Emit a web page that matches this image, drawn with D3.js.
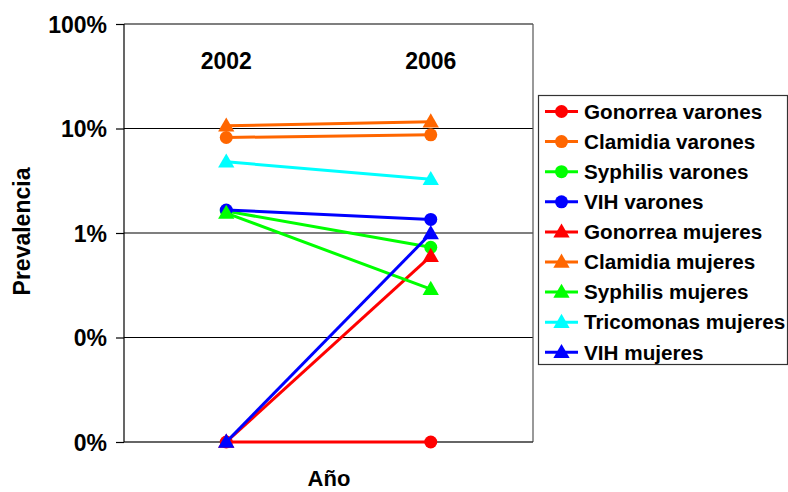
<!DOCTYPE html>
<html><head><meta charset="utf-8">
<script src="https://cdn.jsdelivr.net/npm/d3@7"></script>
<style>body{margin:0;background:#fff}svg{display:block;font-family:"Liberation Sans",Arial,sans-serif;font-weight:bold}</style>
</head><body><svg id="c" width="788" height="492"></svg>
<script>
const years = ["2002", "2006"];
const seriesNames = ["Gonorrea varones","Clamidia varones","Syphilis varones","VIH varones","Gonorrea mujeres","Clamidia mujeres","Syphilis mujeres","Tricomonas mujeres","VIH mujeres"];
const seriesColors = ["#FF0000","#FF6600","#00FF00","#0000FF","#FF0000","#FF6600","#00FF00","#00FFFF","#0000FF"];
const seriesMarkers = ["circle","circle","circle","circle","triangle","triangle","triangle","triangle","triangle"];
// prevalence in %
const v2002 = [0.01, 8.2, 1.62, 1.66, 0.01, 10.6, 1.55, 4.8, 0.01];
const v2006 = [0.01, 8.7, 0.73, 1.35, 0.60, 11.6, 0.29, 3.26, 0.99];
const yTicks = [0.01, 0.1, 1, 10, 100];
const yTickLabels = ["0%","0%","1%","10%","100%"];

const svg = d3.select("#c");
const L=124, R=533, T=24, B=442;
const x = d3.scaleBand().domain(years).range([L,R]);
const y = d3.scaleLog().domain([0.01,100]).range([B,T]);

// gridlines
svg.append("g").selectAll("line").data(yTicks.slice(1)).join("line")
  .attr("x1",L).attr("x2",R).attr("y1",d=>y(d)).attr("y2",d=>y(d))
  .attr("stroke","#000").attr("stroke-width",1.2);
// plot border right/bottom
svg.append("line").attr("x1",R).attr("x2",R).attr("y1",T).attr("y2",B).attr("stroke","#555").attr("stroke-width",1.2);
svg.append("line").attr("x1",L).attr("x2",R).attr("y1",B).attr("y2",B).attr("stroke","#333").attr("stroke-width",1.5);

// y axis
const yAxis = d3.axisLeft(y).tickValues(yTicks).tickSize(8).tickSizeOuter(0)
  .tickFormat((d,i)=>yTickLabels[i]);
const ga = svg.append("g").attr("transform",`translate(${L},0)`).call(yAxis);
ga.select(".domain").attr("stroke","#000").attr("stroke-width",1.2).attr("d",`M0,${T}V${B}`);
ga.selectAll(".tick line").attr("stroke","#000").attr("stroke-width",1.2);
ga.selectAll(".tick text").attr("x",-17).attr("dy","0.35em").attr("font-size",23)
  .attr("font-family","Liberation Sans, Arial, sans-serif").attr("font-weight","bold").attr("fill","#000");

// category labels at top
svg.append("g").selectAll("text").data(years).join("text")
  .attr("x",d=>x(d)+x.bandwidth()/2).attr("y",69).attr("text-anchor","middle")
  .attr("font-size",23).text(d=>d);

// axis titles
svg.append("text").attr("x",329).attr("y",486).attr("text-anchor","middle").attr("font-size",22).text("Año");
svg.append("text").attr("transform","translate(30,231.5) rotate(-90)").attr("text-anchor","middle").attr("font-size",23).text("Prevalencia");

const cx = d=>x(d)+x.bandwidth()/2;
const tri = d3.symbol().type(d3.symbolTriangle).size(115);
function marker(g, type, color, px, py){
  if(type==="circle") g.append("circle").attr("cx",px).attr("cy",py).attr("r",6.5).attr("fill",color);
  else g.append("path").attr("d",tri()).attr("transform",`translate(${px},${py+1})`).attr("fill",color);
}
const line = d3.line().x(d=>cx(d.year)).y(d=>y(d.v));
seriesNames.forEach((name,i)=>{
  const pts = [{year:years[0],v:v2002[i]},{year:years[1],v:v2006[i]}];
  const g = svg.append("g");
  g.append("path").attr("d",line(pts)).attr("fill","none").attr("stroke",seriesColors[i]).attr("stroke-width",3);
  pts.forEach(p=>marker(g, seriesMarkers[i], seriesColors[i], cx(p.year), y(p.v)));
});

// legend
const lg = svg.append("g");
lg.append("rect").attr("x",538.5).attr("y",95.5).attr("width",249).attr("height",269).attr("fill","#fff").attr("stroke","#333").attr("stroke-width",1.2);
seriesNames.forEach((name,i)=>{
  const yy = 111.5 + i*30.1;
  lg.append("line").attr("x1",545).attr("x2",578).attr("y1",yy).attr("y2",yy).attr("stroke",seriesColors[i]).attr("stroke-width",3);
  marker(lg, seriesMarkers[i], seriesColors[i], 561.5, yy);
  lg.append("text").attr("x",584).attr("y",yy).attr("dy","0.35em").attr("font-size",20.7).text(name);
});
</script></body></html>
